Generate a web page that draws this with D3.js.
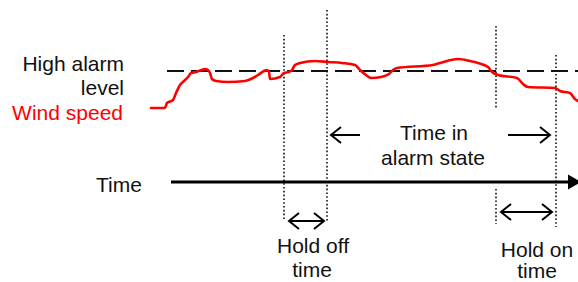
<!DOCTYPE html>
<html><head><meta charset="utf-8">
<script src="https://cdn.jsdelivr.net/npm/d3@7"></script>
<style>body{margin:0;background:#fff}svg{display:block}text{font-family:"Liberation Sans",Arial,sans-serif}</style>
</head><body>
<script>
// Wind speed trace (time units, speed units)
const windTime  = [0,14,16,22,25,29,33,37,40,45,54,57,59,61,65,77,94,102,107,113,116,118,119,129,133,138,141,144,149,164,177,191,204,209,215,220,230,238,242,246,282,289,307,319,327,337,341,347,366,372,377,404,409,419,424,427];
const windSpeed = [1,1,6,9,16,24,28,32,36,37,40,39,36,30,28,27,28,31,34,38,39,37,30,32,36,37,39,44,46,48,47,46,44,39,34,31,32,35,39,41,44,46,50,48,46,42,37,34,31,25,22,21,18,16,10,8];
const alarmLevel = 38;
// event times: hold-off start, alarm on, hold-on start, alarm off
const eventTimes = [133, 176, 345, 405];
const labels = {high: ["High alarm", "level"], wind: "Wind speed", time: "Time",
  inAlarm: ["Time in", "alarm state"], holdOff: ["Hold off", "time"], holdOn: ["Hold on", "time"]};

const W = 578, H = 282;
const x = d3.scaleLinear().domain([0, 427]).range([151, 578]);
const y = d3.scaleLinear().domain([0, 50]).range([109, 59]);

const svg = d3.select("body").append("svg").attr("width", W).attr("height", H);
const FS = 21;

// dotted event lines
const dotSegs = [
  {t: eventTimes[0], y1: 35, y2: 221},
  {t: eventTimes[1], y1: 10, y2: 222},
  {t: eventTimes[2], y1: 26, y2: 109},
  {t: eventTimes[2], y1: 189, y2: 224},
  {t: eventTimes[3], y1: 55, y2: 227}
];
svg.selectAll("line.dot").data(dotSegs).join("line").attr("class", "dot")
  .attr("x1", d => x(d.t)).attr("x2", d => x(d.t))
  .attr("y1", d => d.y1).attr("y2", d => d.y2)
  .attr("stroke", "#111").attr("stroke-width", 1.6).attr("stroke-dasharray", "1.6,2.2");

// alarm level dashed line
svg.append("line").attr("x1", 167).attr("x2", W)
  .attr("y1", y(alarmLevel)).attr("y2", y(alarmLevel))
  .attr("stroke", "#111").attr("stroke-width", 2).attr("stroke-dasharray", "17,7");

// wind speed line
const pts = windTime.map((t, i) => [t, windSpeed[i]]);
svg.append("path").datum(pts)
  .attr("d", d3.line().x(d => x(d[0])).y(d => y(d[1])).curve(d3.curveMonotoneX))
  .attr("fill", "none").attr("stroke", "#ff0000").attr("stroke-width", 2.6)
  .attr("stroke-linejoin", "round").attr("stroke-linecap", "round");

// time axis
const axisY = 182;
svg.append("line").attr("x1", 171).attr("x2", 570).attr("y1", axisY).attr("y2", axisY)
  .attr("stroke", "#000").attr("stroke-width", 3);
svg.append("path").attr("d", `M568,${axisY-7.5}L581,${axisY}L568,${axisY+7.5}Z`).attr("fill", "#000");

// arrows
function chevron(xTip, yy, dir) {
  const hx = 10, hy = 8;
  return `M${xTip - dir*hx},${yy-hy}L${xTip},${yy}L${xTip - dir*hx},${yy+hy}`;
}
function arrow(x1, x2, yy, left, right) {
  const g = svg.append("g").attr("stroke", "#000").attr("stroke-width", 2).attr("fill", "none");
  g.append("line").attr("x1", x1).attr("x2", x2).attr("y1", yy).attr("y2", yy);
  if (left) g.append("path").attr("d", chevron(x1, yy, -1));
  if (right) g.append("path").attr("d", chevron(x2, yy, 1));
}
arrow(x(eventTimes[1]) + 4, x(eventTimes[1]) + 33, 135, true, false);
arrow(x(eventTimes[3]) - 48, x(eventTimes[3]) - 6, 135, false, true);
arrow(x(eventTimes[0]) + 5, x(eventTimes[1]) - 3, 221, true, true);
arrow(x(eventTimes[2]) + 5, x(eventTimes[3]) - 4, 212, true, true);

// texts
function txt(s, tx, ty, anchor, color) {
  svg.append("text").attr("x", tx).attr("y", ty).attr("text-anchor", anchor)
    .attr("font-size", FS).attr("fill", color || "#111").text(s);
}
txt(labels.high[0], 124, 71, "end");
txt(labels.high[1], 124, 95, "end");
txt(labels.wind, 123, 120, "end", "#ff0000");
txt(labels.time, 96, 192, "start");
txt(labels.inAlarm[0], 434, 140, "middle");
txt(labels.inAlarm[1], 433, 165, "middle");
txt(labels.holdOff[0], 313, 253, "middle");
txt(labels.holdOff[1], 312, 277, "middle");
txt(labels.holdOn[0], 537, 257, "middle");
txt(labels.holdOn[1], 537, 278, "middle");
</script>
</body></html>
